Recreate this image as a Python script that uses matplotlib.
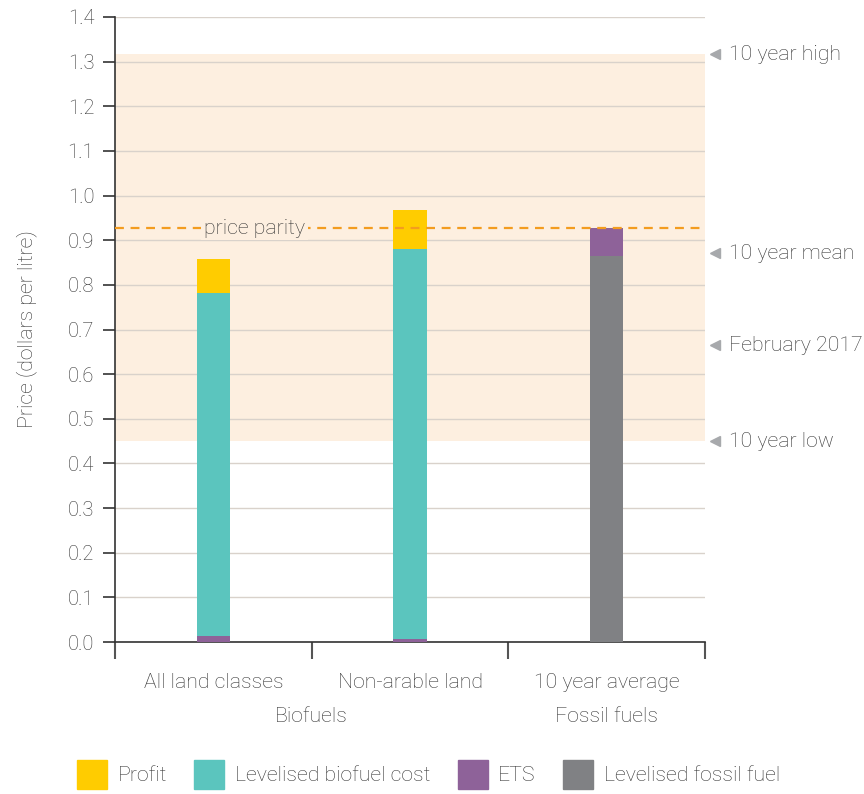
import numpy as np
import matplotlib.pyplot as plt
from matplotlib.patches import Patch
import matplotlib.transforms as mtransforms

plt.rcParams['font.family'] = ['Roboto', 'DejaVu Sans']
plt.rcParams['font.weight'] = 'light'
plt.rcParams['axes.labelweight'] = 'light'

# data
categories = ['All land classes', 'Non-arable land', '10 year average']
groups = ['Biofuels', 'Fossil fuels']
ets = [0.013, 0.007, 0.062]
biofuel_cost = [0.769, 0.873, 0.0]
fossil_cost = [0.0, 0.0, 0.865]
profit = [0.076, 0.088, 0.0]
price_parity = 0.927
band_low, band_high = 0.45, 1.317
ref_labels = ['10 year high', '10 year mean', 'February 2017', '10 year low']
ref_values = [1.317, 0.871, 0.665, 0.45]

c_profit = '#ffcc00'
c_bio = '#5bc5be'
c_ets = '#8e6299'
c_fossil = '#808184'
c_band = '#fdefe0'
c_text = '#333333'
fs = 15.3

fig = plt.figure(figsize=(8.64, 7.94), dpi=100)
ax = fig.add_axes([0.1331, 0.1914, 0.6829, 0.7872])

x = np.arange(len(categories))
w = 0.17
ets = np.array(ets)
biofuel_cost = np.array(biofuel_cost)
fossil_cost = np.array(fossil_cost)
# ETS sits at bottom for biofuels, on top for fossil fuels
ets_bottom = np.where(fossil_cost > 0, fossil_cost, 0)
ax.bar(x, fossil_cost, w, color=c_fossil, zorder=3)
ax.bar(x, ets, w, bottom=ets_bottom, color=c_ets, zorder=3)
bio_bottom = np.where(fossil_cost > 0, 0, ets)
ax.bar(x, biofuel_cost, w, bottom=bio_bottom, color=c_bio, zorder=3)
ax.bar(x, profit, w, bottom=bio_bottom + biofuel_cost, color=c_profit, zorder=3)

ax.axhspan(band_low, band_high, color=c_band, zorder=0, lw=0)
ax.axhline(price_parity, color='#f39c1f', ls=(0, (4, 3)), lw=1.6, zorder=4)
ax.text(0.21, price_parity, 'price parity', ha='center', va='center', fontsize=fs,
        color=c_text, zorder=5,
        bbox=dict(facecolor=c_band, edgecolor='none', pad=2))

ax.set_xlim(-0.5, 2.5)
ax.set_ylim(0, 1.4)
yt = np.arange(0, 1.41, 0.1)
ax.set_yticks(yt)
ax.set_yticklabels(['%.1f' % v for v in yt])
ax.yaxis.grid(True, color='#d9d2cb', lw=1, zorder=1)
ax.set_axisbelow(True)
ax.set_ylabel('Price (dollars per litre)', fontsize=fs, color=c_text, labelpad=22)

ax.set_xticks(x)
ax.set_xticklabels(categories)
ax.set_xticks([-0.5, 0.5, 1.5, 2.5], minor=True)
ax.tick_params(axis='x', which='major', length=0, pad=22, labelsize=fs, colors=c_text)
ax.tick_params(axis='x', which='minor', length=12, width=1.5, color='#555555')
ax.tick_params(axis='y', length=9, width=1.2, labelsize=14.5, colors=c_text, color='#333333', pad=6)

for s in ['top', 'right']:
    ax.spines[s].set_visible(False)
for s in ['left', 'bottom']:
    ax.spines[s].set_color('#333333')
    ax.spines[s].set_linewidth(1.2)

trans_g = mtransforms.blended_transform_factory(ax.transData, fig.transFigure)
ax.text(0.5, 0.098, groups[0], transform=trans_g, ha='center', va='center', fontsize=fs, color=c_text)
ax.text(2.0, 0.098, groups[1], transform=trans_g, ha='center', va='center', fontsize=fs, color=c_text)

trans_r = mtransforms.blended_transform_factory(ax.transAxes, ax.transData)
for lab, val in zip(ref_labels, ref_values):
    ax.plot([1.017], [val], marker='<', color='#a7a9ac', ms=7, transform=trans_r, clip_on=False)
    ax.text(1.04, val, lab, transform=trans_r, ha='left', va='center', fontsize=fs, color=c_text)

handles = [Patch(color=c_profit), Patch(color=c_bio), Patch(color=c_ets), Patch(color=c_fossil)]
labels = ['Profit', 'Levelised biofuel cost', 'ETS', 'Levelised fossil fuel']
fig.legend(handles, labels, loc='lower left', bbox_to_anchor=(0.067, -0.018), ncol=4, frameon=False,
           fontsize=fs, handlelength=1.4, handleheight=1.75, columnspacing=1.3, handletextpad=0.5,
           labelcolor=c_text)

fig.savefig('out.png', dpi=100)
